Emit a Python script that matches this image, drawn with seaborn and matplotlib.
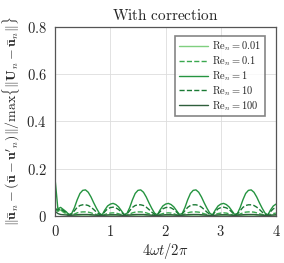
import numpy as np
import pandas as pd
import matplotlib
matplotlib.use("Agg")
import matplotlib.pyplot as plt
import seaborn as sns

### values (x step 0.05 from 0 to 4)
x = np.round(np.arange(0, 4.001, 0.05), 2)

re_001 = [0.035, 0.02, 0.025, 0.015, 0.008, 0.003, 0.002, 0.002, 0.003, 0.003, 0.004, 0.004, 0.004, 0.003, 0.003, 0.002, 0.002, 0.001, 0.002, 0.003,
          0.003, 0.003, 0.003, 0.003, 0.002, 0.001, 0.002, 0.002, 0.003, 0.003, 0.004, 0.004, 0.004, 0.003, 0.003, 0.002, 0.002, 0.001, 0.002, 0.003,
          0.003, 0.003, 0.003, 0.003, 0.002, 0.001, 0.002, 0.002, 0.003, 0.003, 0.004, 0.004, 0.004, 0.003, 0.003, 0.002, 0.002, 0.001, 0.002, 0.003,
          0.003, 0.003, 0.003, 0.003, 0.002, 0.001, 0.002, 0.002, 0.003, 0.003, 0.004, 0.004, 0.004, 0.003, 0.003, 0.002, 0.002, 0.001, 0.002, 0.003,
          0.003]

re_01 = [0.03, 0.02, 0.028, 0.018, 0.009, 0.003, 0.003, 0.008, 0.013, 0.016, 0.017, 0.017, 0.016, 0.013, 0.009, 0.006, 0.003, 0.002, 0.006, 0.01,
         0.012, 0.013, 0.012, 0.009, 0.005, 0.002, 0.003, 0.008, 0.013, 0.016, 0.017, 0.017, 0.016, 0.013, 0.009, 0.006, 0.003, 0.002, 0.006, 0.01,
         0.012, 0.013, 0.012, 0.009, 0.005, 0.002, 0.003, 0.008, 0.013, 0.016, 0.017, 0.017, 0.016, 0.013, 0.009, 0.006, 0.003, 0.002, 0.006, 0.01,
         0.012, 0.013, 0.012, 0.009, 0.005, 0.002, 0.003, 0.008, 0.013, 0.016, 0.017, 0.017, 0.016, 0.013, 0.009, 0.006, 0.003, 0.002, 0.006, 0.01,
         0.012]

re_1 = [0.155, 0.03, 0.036, 0.027, 0.018, 0.006, 0.01, 0.035, 0.068, 0.095, 0.108, 0.11, 0.1, 0.08, 0.055, 0.032, 0.012, 0.004, 0.025, 0.042,
        0.05, 0.053, 0.048, 0.038, 0.022, 0.006, 0.01, 0.035, 0.068, 0.095, 0.108, 0.11, 0.1, 0.08, 0.055, 0.032, 0.012, 0.004, 0.025, 0.042,
        0.05, 0.053, 0.048, 0.038, 0.022, 0.006, 0.01, 0.035, 0.068, 0.095, 0.108, 0.11, 0.1, 0.08, 0.055, 0.032, 0.012, 0.004, 0.025, 0.042,
        0.05, 0.053, 0.048, 0.038, 0.022, 0.006, 0.01, 0.035, 0.068, 0.095, 0.108, 0.11, 0.1, 0.08, 0.055, 0.032, 0.012, 0.004, 0.025, 0.042,
        0.05]

re_10 = [0.03, 0.025, 0.03, 0.022, 0.015, 0.005, 0.008, 0.022, 0.036, 0.044, 0.047, 0.047, 0.044, 0.037, 0.027, 0.016, 0.007, 0.004, 0.018, 0.03,
         0.035, 0.037, 0.034, 0.027, 0.016, 0.005, 0.008, 0.022, 0.036, 0.044, 0.047, 0.047, 0.044, 0.037, 0.027, 0.016, 0.007, 0.004, 0.018, 0.03,
         0.035, 0.037, 0.034, 0.027, 0.016, 0.005, 0.008, 0.022, 0.036, 0.044, 0.047, 0.047, 0.044, 0.037, 0.027, 0.016, 0.007, 0.004, 0.018, 0.03,
         0.035, 0.037, 0.034, 0.027, 0.016, 0.005, 0.008, 0.022, 0.036, 0.044, 0.047, 0.047, 0.044, 0.037, 0.027, 0.016, 0.007, 0.004, 0.018, 0.03,
         0.035]

re_100 = [0.02, 0.01, 0.006, 0.005, 0.004, 0.002, 0.003, 0.004, 0.005, 0.006, 0.006, 0.006, 0.006, 0.005, 0.004, 0.003, 0.002, 0.002, 0.003, 0.004,
          0.005, 0.005, 0.005, 0.004, 0.003, 0.002, 0.003, 0.004, 0.005, 0.006, 0.006, 0.006, 0.006, 0.005, 0.004, 0.003, 0.002, 0.002, 0.003, 0.004,
          0.005, 0.005, 0.005, 0.004, 0.003, 0.002, 0.003, 0.004, 0.005, 0.006, 0.006, 0.006, 0.006, 0.005, 0.004, 0.003, 0.002, 0.002, 0.003, 0.004,
          0.005, 0.005, 0.005, 0.004, 0.003, 0.002, 0.003, 0.004, 0.005, 0.006, 0.006, 0.006, 0.006, 0.005, 0.004, 0.003, 0.002, 0.002, 0.003, 0.004,
          0.005]

labels = [r"$\mathrm{Re}_n = 0.01$", r"$\mathrm{Re}_n = 0.1$", r"$\mathrm{Re}_n = 1$",
          r"$\mathrm{Re}_n = 10$", r"$\mathrm{Re}_n = 100$"]
series = [re_001, re_01, re_1, re_10, re_100]
colors = ["#7fcf7f", "#3aa84f", "#259440", "#1a7a34", "#2f5f3c"]
styles = ["-", "--", "-", "--", "-"]

sns.set_style("whitegrid")
plt.rcParams["font.family"] = ["DejaVu Serif"]
plt.rcParams["mathtext.fontset"] = "cm"

fig = plt.figure(figsize=(2.84, 2.63), dpi=100)
ax = fig.add_axes([0.194, 0.179, 0.778, 0.72])

for y, lab, c, ls in zip(series, labels, colors, styles):
    df = pd.DataFrame({"x": x, "y": y})
    sns.lineplot(data=df, x="x", y="y", ax=ax, color=c, linestyle=ls, linewidth=1.0, label=lab)

ax.set_xlim(0, 4)
ax.set_ylim(0, 0.8)
ax.set_xticks([0, 1, 2, 3, 4])
ax.set_xticklabels([f"${v}$" for v in [0, 1, 2, 3, 4]])
ax.set_yticks([0, 0.2, 0.4, 0.6, 0.8])
ax.set_yticklabels(["$0$", "$0.2$", "$0.4$", "$0.6$", "$0.8$"])
ax.tick_params(labelsize=10.5, length=3, width=0.6, color="#888888", direction="out", pad=3)
ax.tick_params(axis="x", pad=3)
ax.grid(color="#dddddd", linewidth=0.6)
for s in ax.spines.values():
    s.set_color("#555555")
    s.set_linewidth(0.9)

ax.set_xlabel(r"$4\omega t/2\pi$", fontsize=10.5, labelpad=1)
ax.set_ylabel(r"$\Vert\bar{\mathbf{u}}_n - (\bar{\mathbf{u}} - \mathbf{u}'_n)\Vert/\max\{\Vert\mathbf{U}_n - \bar{\mathbf{u}}_n\Vert\}$",
              fontsize=10, labelpad=3)
ax.set_title(r"$\mathrm{With\ correction}$", fontsize=11, pad=5)

leg = ax.legend(loc="upper right", fontsize=7.5, frameon=True, fancybox=False,
                handlelength=2.8, handletextpad=0.4, borderpad=0.35, labelspacing=0.1,
                borderaxespad=0, bbox_to_anchor=(0.95, 0.95))
leg.get_frame().set_edgecolor("#666666")
leg.get_frame().set_linewidth(1.2)

fig.savefig("out.png", dpi=100)
